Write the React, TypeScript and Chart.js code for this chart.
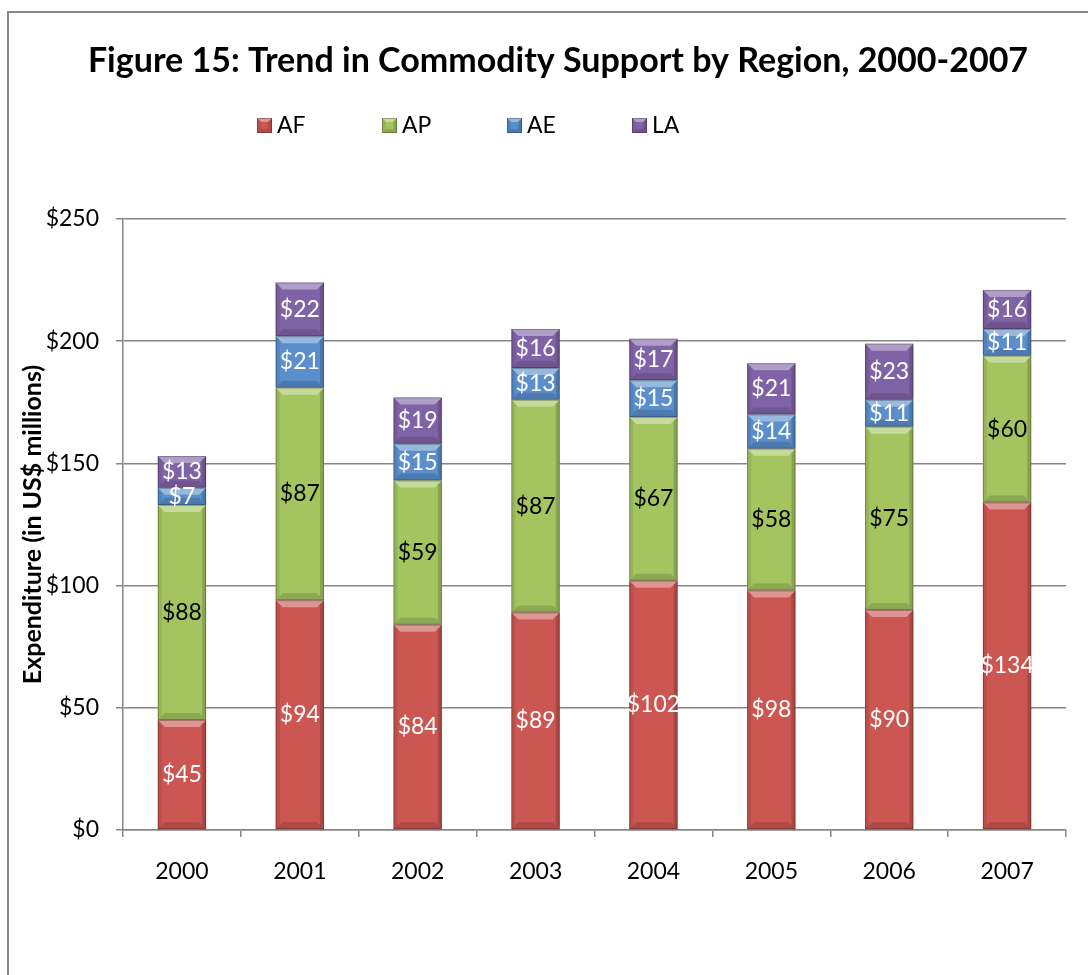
import React, { useEffect, useRef } from "react";
import { Chart, registerables } from "chart.js";

Chart.register(...registerables);

const years = ["2000", "2001", "2002", "2003", "2004", "2005", "2006", "2007"];
const afValues = [45, 94, 84, 89, 102, 98, 90, 134];
const apValues = [88, 87, 59, 87, 67, 58, 75, 60];
const aeValues = [7, 21, 15, 13, 15, 14, 11, 11];
const laValues = [13, 22, 19, 16, 17, 21, 23, 16];
const seriesNames = ["AF", "AP", "AE", "LA"];
const seriesColors = ["#CC5652", "#A4C460", "#5A8FCC", "#8063A6"];
const labelColors = ["#ffffff", "#000000", "#ffffff", "#ffffff"];
const titleText = "Figure 15: Trend in Commodity Support by Region, 2000-2007";
const yAxisTitle = "Expenditure (in US$ millions)";

const FONT = "Lato, 'Open Sans', sans-serif";

function bevel(ctx: CanvasRenderingContext2D, left: number, top: number, right: number, bottom: number, b: number) {
  const h = bottom - top;
  const bb = Math.min(b, h / 2, (right - left) / 2);
  ctx.fillStyle = "rgba(255,255,255,0.38)";
  ctx.beginPath();
  ctx.moveTo(left, top);
  ctx.lineTo(right, top);
  ctx.lineTo(right - bb, top + bb);
  ctx.lineTo(left + bb, top + bb);
  ctx.closePath();
  ctx.fill();
  ctx.fillStyle = "rgba(0,0,0,0.14)";
  ctx.beginPath();
  ctx.moveTo(left, bottom);
  ctx.lineTo(right, bottom);
  ctx.lineTo(right - bb, bottom - bb);
  ctx.lineTo(left + bb, bottom - bb);
  ctx.closePath();
  ctx.fill();
  const sw = Math.min(4, (right - left) / 4);
  ctx.fillStyle = "rgba(0,0,0,0.08)";
  ctx.beginPath();
  ctx.moveTo(left, top);
  ctx.lineTo(left + sw, top + sw);
  ctx.lineTo(left + sw, bottom - sw);
  ctx.lineTo(left, bottom);
  ctx.closePath();
  ctx.fill();
  ctx.fillStyle = "rgba(0,0,0,0.16)";
  ctx.beginPath();
  ctx.moveTo(right, top);
  ctx.lineTo(right - sw, top + sw);
  ctx.lineTo(right - sw, bottom - sw);
  ctx.lineTo(right, bottom);
  ctx.closePath();
  ctx.fill();
  ctx.strokeStyle = "rgba(0,0,0,0.25)";
  ctx.lineWidth = 1;
  ctx.strokeRect(left + 0.5, top + 0.5, right - left - 1, bottom - top - 1);
}

const framePlugin = {
  id: "frame",
  beforeDraw(chart: any) {
    const ctx = chart.ctx;
    ctx.save();
    ctx.fillStyle = "#ffffff";
    ctx.fillRect(0, 0, chart.width, chart.height);
    ctx.strokeStyle = "#868686";
    ctx.lineWidth = 2;
    ctx.beginPath();
    ctx.moveTo(8, chart.height + 10);
    ctx.lineTo(8, 12);
    ctx.lineTo(chart.width + 10, 12);
    ctx.stroke();
    ctx.restore();
  },
};

const bevelPlugin = {
  id: "bevel",
  afterDatasetsDraw(chart: any) {
    const ctx = chart.ctx;
    ctx.save();
    chart.data.datasets.forEach((ds: any, di: number) => {
      const meta = chart.getDatasetMeta(di);
      meta.data.forEach((bar: any) => {
        const p = bar.getProps(["x", "y", "base", "width"], true);
        const left = p.x - p.width / 2;
        const right = p.x + p.width / 2;
        const top = Math.min(p.y, p.base);
        const bottom = Math.max(p.y, p.base);
        bevel(ctx, left, top, right, bottom, 7);
      });
    });
    ctx.font = `23px ${FONT}`;
    ctx.textAlign = "center";
    ctx.textBaseline = "middle";
    chart.data.datasets.forEach((ds: any, di: number) => {
      const meta = chart.getDatasetMeta(di);
      ctx.fillStyle = labelColors[di];
      meta.data.forEach((bar: any, i: number) => {
        const p = bar.getProps(["x", "y", "base"], true);
        ctx.fillText("$" + ds.data[i], p.x, (p.y + p.base) / 2);
      });
    });
    ctx.restore();
  },
};

const headerPlugin = {
  id: "header",
  afterDraw(chart: any) {
    const ctx = chart.ctx;
    ctx.save();
    ctx.fillStyle = "#000000";
    ctx.font = `bold 34px ${FONT}`;
    ctx.textAlign = "center";
    ctx.textBaseline = "middle";
    ctx.fillText(titleText, 558, 61);

    const startX = 257;
    const step = 125;
    const cy = 125;
    ctx.font = `23px ${FONT}`;
    ctx.textAlign = "left";
    seriesNames.forEach((name, i) => {
      const x = startX + i * step;
      ctx.fillStyle = seriesColors[i];
      ctx.fillRect(x, cy - 7, 15, 15);
      bevel(ctx, x, cy - 7, x + 15, cy + 8, 4);
      ctx.fillStyle = "#000000";
      ctx.fillText(name, x + 20, cy + 1);
    });
    ctx.restore();
  },
};

export default function App() {
  const canvasRef = useRef<HTMLCanvasElement | null>(null);

  useEffect(() => {
    const canvas = canvasRef.current;
    if (!canvas) return;
    const valueSets = [afValues, apValues, aeValues, laValues];
    const chart = new Chart(canvas, {
      type: "bar",
      data: {
        labels: years,
        datasets: seriesNames.map((name, i) => ({
          label: name,
          data: valueSets[i],
          backgroundColor: seriesColors[i],
          borderWidth: 0,
          categoryPercentage: 1,
          barPercentage: 0.41,
        })),
      },
      options: {
        responsive: false,
        animation: false,
        devicePixelRatio: 1,
        layout: { padding: { top: 219, left: 8, right: 22, bottom: 85 } },
        plugins: {
          legend: { display: false },
          tooltip: { enabled: false },
          title: { display: false },
        },
        scales: {
          x: {
            stacked: true,
            offset: true,
            grid: {
              display: true,
              drawOnChartArea: false,
              drawTicks: true,
              offset: true,
              tickLength: 7,
              color: "#868686",
              lineWidth: 1.5,
            },
            border: { color: "#868686", width: 1.5 },
            ticks: {
              color: "#000000",
              font: { family: FONT, size: 23 },
              padding: 21,
            },
            afterFit(scale: any) {
              scale.height = 60;
            },
          },
          y: {
            stacked: true,
            min: 0,
            max: 250,
            grid: {
              color: "#868686",
              lineWidth: 1.5,
              tickLength: 7,
            },
            border: { color: "#868686", width: 1.5 },
            ticks: {
              stepSize: 50,
              color: "#000000",
              font: { family: FONT, size: 23 },
              padding: 17,
              callback: (v: any) => "$" + v,
            },
            title: {
              display: true,
              text: yAxisTitle,
              color: "#000000",
              font: { family: FONT, size: 25, weight: "bold", lineHeight: 1.2 },
              padding: { top: 10, bottom: 0 },
            },
            afterFit(scale: any) {
              scale.width = 115;
            },
          },
        },
      },
      plugins: [framePlugin, bevelPlugin, headerPlugin],
    } as any);
    return () => chart.destroy();
  }, []);

  return (
    <div style={{ position: "absolute", left: 0, top: 0, width: 1088, height: 975, background: "#fff" }}>
      <canvas ref={canvasRef} width={1088} height={975} style={{ width: 1088, height: 975, display: "block" }} />
    </div>
  );
}
